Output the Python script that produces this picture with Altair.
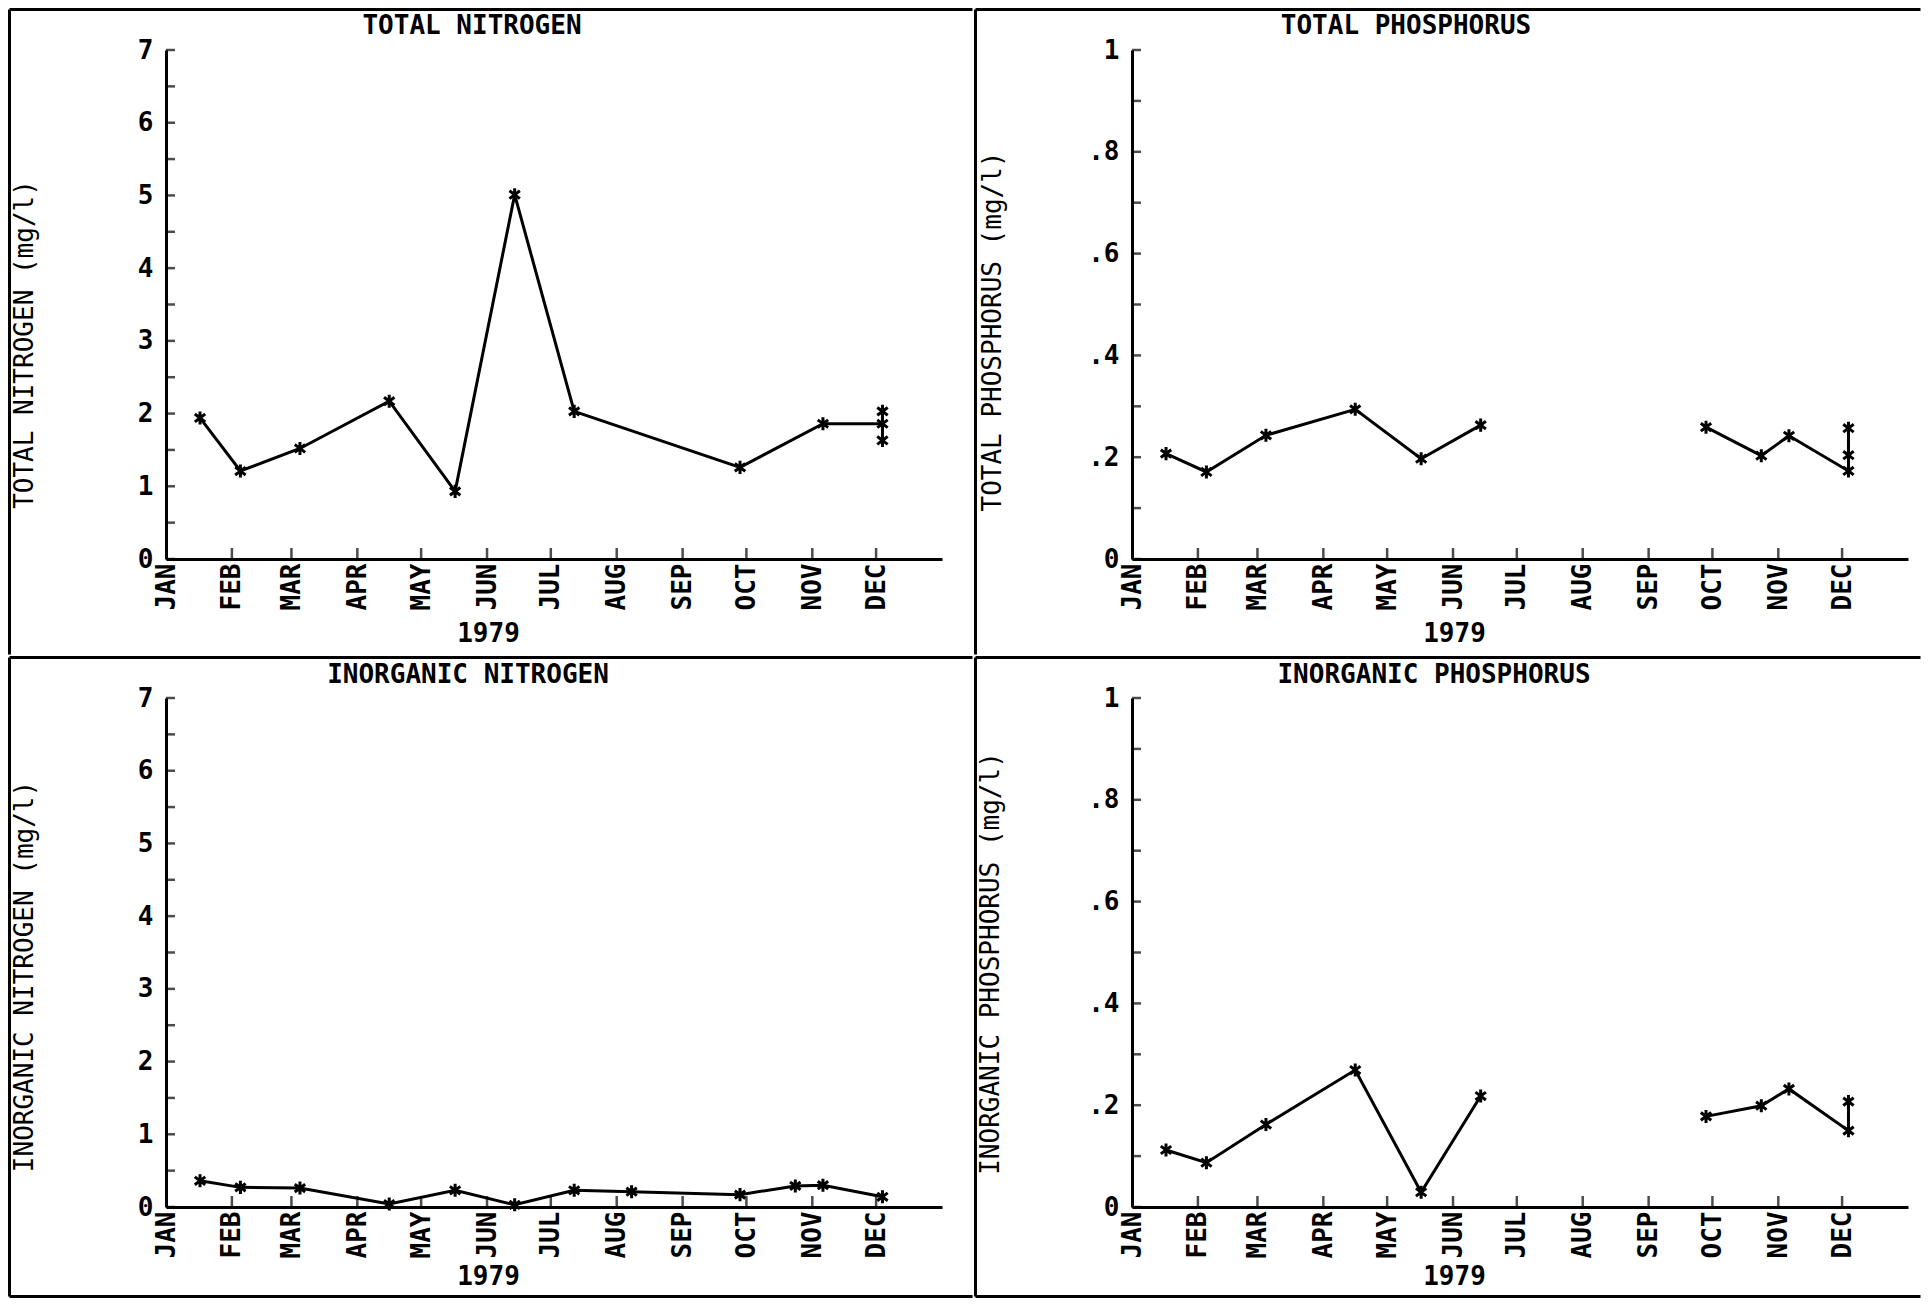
import altair as alt
import pandas as pd

FONT = "DejaVu Sans Mono"
FS = 26

# ---------------- data ----------------
TN_DATES = ["1979-01-17", "1979-02-05", "1979-03-05", "1979-04-16", "1979-05-17", "1979-06-14",
            "1979-07-12", "1979-09-28", "1979-11-06", "1979-12-04", "1979-12-04", "1979-12-04"]
TN_VALUES = [1.94, 1.21, 1.52, 2.17, 0.93, 5.01, 2.03, 1.26, 1.86, 1.86, 2.03, 1.63]
TN_SEGMENTS = [1, 1, 1, 1, 1, 1, 1, 1, 1, 1, 1, 1]

TP_DATES = ["1979-01-17", "1979-02-05", "1979-03-05", "1979-04-16", "1979-05-17", "1979-06-14",
            "1979-09-28", "1979-10-24", "1979-11-06", "1979-12-04", "1979-12-04", "1979-12-04"]
TP_VALUES = [0.207, 0.171, 0.243, 0.294, 0.197, 0.263, 0.259, 0.203, 0.242, 0.173, 0.204, 0.257]
TP_SEGMENTS = [1, 1, 1, 1, 1, 1, 2, 2, 2, 2, 2, 2]

IN_DATES = ["1979-01-17", "1979-02-05", "1979-03-05", "1979-04-16", "1979-05-17", "1979-06-14",
            "1979-07-12", "1979-08-08", "1979-09-28", "1979-10-24", "1979-11-06", "1979-12-04"]
IN_VALUES = [0.36, 0.27, 0.26, 0.04, 0.23, 0.03, 0.23, 0.21, 0.17, 0.29, 0.30, 0.14]
IN_SEGMENTS = [1, 1, 1, 1, 1, 1, 1, 1, 1, 1, 1, 1]

IP_DATES = ["1979-01-17", "1979-02-05", "1979-03-05", "1979-04-16", "1979-05-17", "1979-06-14",
            "1979-09-28", "1979-10-24", "1979-11-06", "1979-12-04", "1979-12-04"]
IP_VALUES = [0.112, 0.087, 0.162, 0.269, 0.029, 0.218, 0.178, 0.199, 0.232, 0.150, 0.207]
IP_SEGMENTS = [1, 1, 1, 1, 1, 1, 2, 2, 2, 2, 2]

MONTHS = [1, 2, 3, 4, 5, 6, 7, 8, 9, 10, 11, 12]
TICK_MONTHS = ["1979-02-01", "1979-03-01", "1979-04-01", "1979-05-01", "1979-06-01", "1979-07-01",
               "1979-08-01", "1979-09-01", "1979-10-01", "1979-11-01", "1979-12-01"]

N_TICKS = [0, 0.5, 1, 1.5, 2, 2.5, 3, 3.5, 4, 4.5, 5, 5.5, 6, 6.5, 7]
N_LABELS = [0, 1, 2, 3, 4, 5, 6, 7]
P_TICKS = [0, 0.1, 0.2, 0.3, 0.4, 0.5, 0.6, 0.7, 0.8, 0.9, 1]
P_LABELS = [0, 0.2, 0.4, 0.6, 0.8, 1]

ASTERISK = "M0,-1L0,1M-0.8,-0.6L0.8,0.6M-0.8,0.6L0.8,-0.6"

W = 776
H = 509


def one():
    return alt.Data(values=[{}])


def panel(title, title_x, ytitle, ytitle_x, ytitle_y, ymax, ytick_vals, ylabel_vals,
          ylabel_expr, dates, values, segs, bottom_row, right_col):
    df = pd.DataFrame({"date": dates, "value": values, "seg": segs,
                       "idx": list(range(len(values)))})

    xscale = alt.Scale(type="utc", domain=[alt.DateTime(year=1979, month=1, date=1, utc=True),
                                           alt.DateTime(year=1980, month=1, date=1, utc=True)])
    yscale = alt.Scale(domain=[0, ymax], nice=False, zero=True)

    xaxis = alt.Axis(
        values=[alt.DateTime(year=1979, month=m, date=1, utc=True) for m in MONTHS],
        labelExpr="upper(utcFormat(datum.value, '%b'))",
        labelAngle=270, labelAlign="right", labelBaseline="middle", labelPadding=4,
        labelOverlap=False, labelFlush=False, labelFont=FONT, labelFontSize=FS,
        labelFontWeight="bold", labelColor="black",
        ticks=False, tickSize=0, domainColor="black", domainWidth=3, grid=False,
        title="1979", titleFont=FONT, titleFontSize=FS, titleFontWeight="bold",
        titleColor="black", titleX=322, titleY=69 if bottom_row else 74,
        titleAlign="center", titleBaseline="middle")
    yaxis = alt.Axis(
        values=ylabel_vals, labelExpr=ylabel_expr, labelPadding=13,
        labelFont=FONT, labelFontSize=FS, labelFontWeight="bold", labelColor="black",
        ticks=False, tickSize=0, domainColor="black", domainWidth=3, grid=False,
        title=ytitle, titleFont=FONT, titleFontSize=FS, titleFontWeight="normal",
        titleColor="black", titleX=ytitle_x, titleY=ytitle_y, titleAngle=270,
        titleAlign="center", titleBaseline="middle")

    x = alt.X("date:T", scale=xscale, axis=xaxis)
    y = alt.Y("value:Q", scale=yscale, axis=yaxis)

    line = alt.Chart(df).mark_line(color="black", strokeWidth=3).encode(
        x=x, y=y, detail="seg:N", order="idx:Q")
    pts = alt.Chart(df).mark_point(shape=ASTERISK, size=170, filled=False, stroke="black",
                                   strokeWidth=3, opacity=1).encode(x=x, y=y)

    xticks = alt.Chart(pd.DataFrame({"date": TICK_MONTHS})).mark_tick(
        orient="vertical", size=12, thickness=2.5, color="black").encode(
        x=x, y=alt.value(H - 5))
    yticks = alt.Chart(pd.DataFrame({"value": ytick_vals})).mark_tick(
        orient="horizontal", size=9, thickness=2.5, color="black").encode(
        y=y, x=alt.value(4.5))

    right_edge = 790 if right_col else 808
    bottom_edge = 600 if bottom_row else 606

    frame = alt.Chart(one()).mark_rect(opacity=0).encode(
        x=alt.value(-158), x2=alt.value(right_edge),
        y=alt.value(-42), y2=alt.value(bottom_edge))
    left_rule = alt.Chart(one()).mark_rule(color="black", strokeWidth=3).encode(
        x=alt.value(-156.5), y=alt.value(-40.5), y2=alt.value(bottom_edge - 1.5))
    top_rule = alt.Chart(one()).mark_rule(color="black", strokeWidth=3).encode(
        x=alt.value(-156.5), x2=alt.value(right_edge - 1.5), y=alt.value(-40.5))
    layers = [frame, left_rule, top_rule]
    if bottom_row:
        bottom_rule = alt.Chart(one()).mark_rule(color="black", strokeWidth=3).encode(
            x=alt.value(-156.5), x2=alt.value(right_edge - 1.5), y=alt.value(bottom_edge - 1.5))
        layers.append(bottom_rule)

    ttl = alt.Chart(one()).mark_text(
        text=title, font=FONT, fontSize=FS, fontWeight="bold", color="black",
        align="center", baseline="middle").encode(
        x=alt.value(title_x), y=alt.value(-23 if bottom_row else -24))

    layers = [line, pts, yticks, xticks] + layers + [ttl]
    return alt.layer(*layers).properties(width=W, height=H)


N_EXPR = "datum.label"
P_EXPR = ("datum.value == 0 ? '0' : datum.value == 1 ? '1' : "
          "replace(format(datum.value, '.1f'), '0.', '.')")

p1 = panel("TOTAL NITROGEN", 306, "TOTAL NITROGEN (mg/l)", -142, 294, 7, N_TICKS, N_LABELS,
           N_EXPR, TN_DATES, TN_VALUES, TN_SEGMENTS, False, False)
p2 = panel("TOTAL PHOSPHORUS", 274, "TOTAL PHOSPHORUS (mg/l)", -140, 281, 1, P_TICKS, P_LABELS,
           P_EXPR, TP_DATES, TP_VALUES, TP_SEGMENTS, False, True)
p3 = panel("INORGANIC NITROGEN", 302, "INORGANIC NITROGEN (mg/l)", -142, 278, 7, N_TICKS,
           N_LABELS, N_EXPR, IN_DATES, IN_VALUES, IN_SEGMENTS, True, False)
p4 = panel("INORGANIC PHOSPHORUS", 302, "INORGANIC PHOSPHORUS (mg/l)", -142, 265, 1, P_TICKS,
           P_LABELS, P_EXPR, IP_DATES, IP_VALUES, IP_SEGMENTS, True, True)

chart = alt.vconcat(
    alt.hconcat(p1, p2, spacing=0),
    alt.hconcat(p3, p4, spacing=0),
    spacing=0,
).properties(padding=0).configure(font=FONT).configure_view(strokeWidth=0)

chart.save("out.html", embed_options={"renderer": "svg", "actions": False})
